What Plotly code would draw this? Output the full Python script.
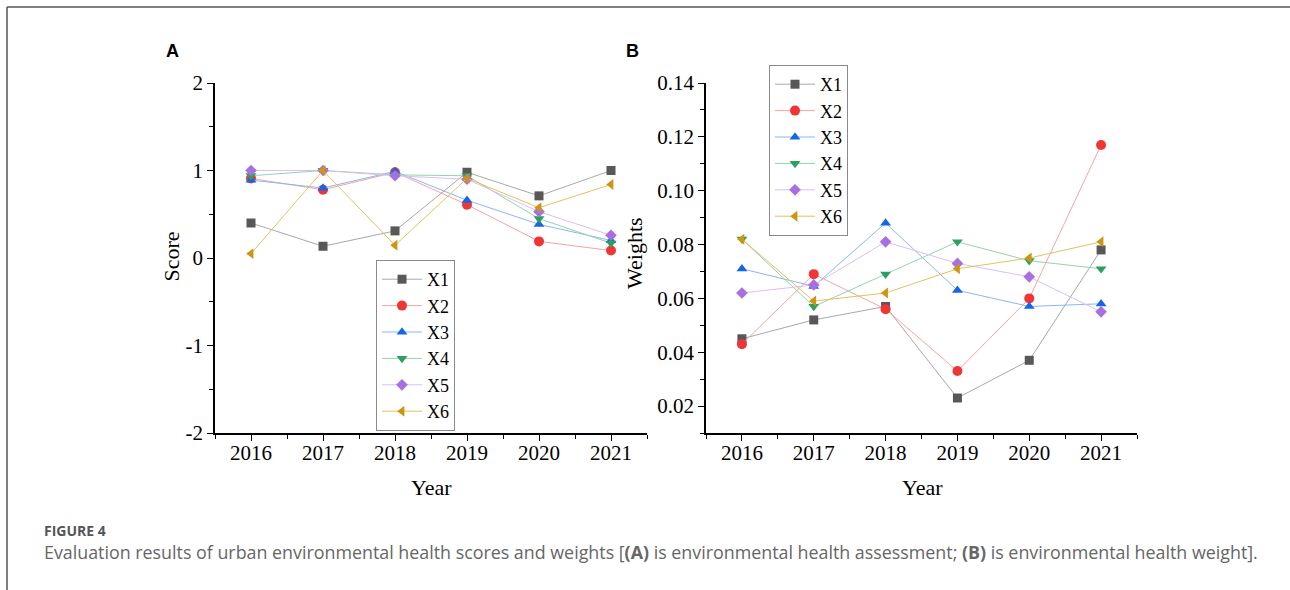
import plotly.graph_objects as go

years = [2016, 2017, 2018, 2019, 2020, 2021]
series_names = ["X1", "X2", "X3", "X4", "X5", "X6"]

score_x1 = [0.40, 0.134, 0.31, 0.98, 0.71, 1.00]
score_x2 = [0.91, 0.78, 0.98, 0.61, 0.19, 0.085]
score_x3 = [0.89, 0.80, 0.99, 0.66, 0.385, 0.20]
score_x4 = [0.94, 1.00, 0.95, 0.94, 0.45, 0.17]
score_x5 = [1.00, 1.00, 0.94, 0.90, 0.53, 0.26]
score_x6 = [0.05, 1.00, 0.145, 0.91, 0.575, 0.84]

weight_x1 = [0.045, 0.052, 0.057, 0.023, 0.037, 0.078]
weight_x2 = [0.043, 0.069, 0.056, 0.033, 0.060, 0.117]
weight_x3 = [0.071, 0.0645, 0.088, 0.063, 0.057, 0.058]
weight_x4 = [0.082, 0.057, 0.069, 0.081, 0.074, 0.071]
weight_x5 = [0.062, 0.065, 0.081, 0.073, 0.068, 0.055]
weight_x6 = [0.082, 0.059, 0.062, 0.071, 0.075, 0.081]

score_ticks = [-2, -1, 0, 1, 2]
score_ticktext = ["-2", "-1", "0", "1", "2"]
weight_ticks = [0.02, 0.04, 0.06, 0.08, 0.10, 0.12, 0.14]
weight_ticktext = ["0.02", "0.04", "0.06", "0.08", "0.10", "0.12", "0.14"]

scores = [score_x1, score_x2, score_x3, score_x4, score_x5, score_x6]
weights = [weight_x1, weight_x2, weight_x3, weight_x4, weight_x5, weight_x6]

marker_colors = ["#585858", "#f03535", "#1466e6", "#2aa160", "#a86fe0", "#cc9612"]
line_colors = ["#a8a8a8", "#f7a3a3", "#8cb6f2", "#92d4ae", "#d8bff5", "#e3c25c"]
symbols = ["square", "circle", "triangle-up", "triangle-down", "diamond", "triangle-left"]
marker_sizes = [9, 10, 9.5, 9.5, 9, 9.5]

SERIF = "Liberation Serif, Times New Roman, serif"
W, H = 1290, 590

fig = go.Figure()

for i, name in enumerate(series_names):
    fig.add_trace(go.Scatter(
        x=years, y=scores[i], name=name, mode="lines+markers",
        line=dict(color=line_colors[i], width=1),
        marker=dict(symbol=symbols[i], color=marker_colors[i], size=marker_sizes[i], line=dict(width=0)),
        xaxis="x", yaxis="y", legend="legend",
    ))
for i, name in enumerate(series_names):
    fig.add_trace(go.Scatter(
        x=years, y=weights[i], name=name, mode="lines+markers",
        line=dict(color=line_colors[i], width=1),
        marker=dict(symbol=symbols[i], color=marker_colors[i], size=marker_sizes[i], line=dict(width=0)),
        xaxis="x2", yaxis="y2", legend="legend2",
    ))

def px_x(p):
    return p / W

def px_y(p):
    return 1 - p / H

axis_common = dict(
    showline=True, linecolor="black", linewidth=1.5, showgrid=False, zeroline=False,
    ticks="outside", ticklen=6, tickwidth=1.2, tickcolor="black", automargin=False,
    tickfont=dict(family=SERIF, size=21, color="black"),
)

xdom_a = [px_x(215), px_x(647)]
xdom_b = [px_x(706), px_x(1137)]
ydom = [px_y(433), px_y(83)]

legend_style = dict(xanchor="left", yanchor="top", bgcolor="white", bordercolor="#8a8a8a", borderwidth=1,
                    font=dict(family=SERIF, size=18, color="black"), tracegroupgap=0, itemwidth=40)

fig.update_layout(
    width=W, height=H,
    margin=dict(l=0, r=0, t=0, b=0, pad=0, autoexpand=False),
    paper_bgcolor="white", plot_bgcolor="white",
    xaxis=dict(domain=xdom_a, range=[2015.5, 2021.5], tickvals=years, anchor="y",
               minor=dict(ticks="outside", ticklen=4, tickcolor="black", dtick=0.5, tick0=2015.5),
               ticklabelstandoff=-6, **axis_common),
    yaxis=dict(domain=ydom, range=[-2, 2], tickvals=score_ticks, ticktext=score_ticktext, anchor="x",
               minor=dict(ticks="outside", ticklen=4, tickcolor="black", dtick=0.5, tick0=-2),
               **axis_common),
    xaxis2=dict(domain=xdom_b, range=[2015.5, 2021.5], tickvals=years, anchor="y2",
                minor=dict(ticks="outside", ticklen=4, tickcolor="black", dtick=0.5, tick0=2015.5),
                ticklabelstandoff=-6, **axis_common),
    yaxis2=dict(domain=ydom, range=[0.01, 0.14], tickvals=weight_ticks, ticktext=weight_ticktext, anchor="x2",
                minor=dict(ticks="outside", ticklen=4, tickcolor="black", dtick=0.01, tick0=0.01),
                **axis_common),
    legend=dict(x=px_x(376), y=px_y(260), **legend_style),
    legend2=dict(x=px_x(769), y=px_y(65), **legend_style),
    showlegend=True,
)

annotations = [
    dict(text="<b>A</b>", x=px_x(172), y=px_y(51), font=dict(family="Liberation Sans, Arial", size=18, color="black")),
    dict(text="<b>B</b>", x=px_x(632.5), y=px_y(51), font=dict(family="Liberation Sans, Arial", size=18, color="black")),
    dict(text="Score", x=px_x(170.5), y=px_y(257), textangle=-90, font=dict(family=SERIF, size=22, color="black")),
    dict(text="Weights", x=px_x(634), y=px_y(253), textangle=-90, font=dict(family=SERIF, size=22, color="black")),
    dict(text="Year", x=px_x(431), y=px_y(488), font=dict(family=SERIF, size=22, color="black")),
    dict(text="Year", x=px_x(922), y=px_y(488), font=dict(family=SERIF, size=22, color="black")),
]
for a in annotations:
    a.update(xref="paper", yref="paper", showarrow=False, xanchor="center", yanchor="middle")

annotations.append(dict(text="<b>FIGURE 4</b>", x=px_x(42), y=px_y(530.5), xref="paper", yref="paper",
                        showarrow=False, xanchor="left", yanchor="middle",
                        font=dict(family="Open Sans", size=14, color="#555555")))
annotations.append(dict(
    text="Evaluation results of urban environmental health scores and weights [<b>(A)</b> is environmental health assessment; <b>(B)</b> is environmental health weight].",
    x=px_x(42), y=px_y(552), xref="paper", yref="paper", showarrow=False,
    xanchor="left", yanchor="middle", font=dict(family="Open Sans", size=17.85, color="#666666")))
fig.update_layout(annotations=annotations)

fig.add_shape(type="line", xref="paper", yref="paper", x0=px_x(7), x1=1, y0=px_y(7), y1=px_y(7),
              line=dict(color="#555555", width=1.5))
fig.add_shape(type="line", xref="paper", yref="paper", x0=px_x(7), x1=px_x(7), y0=px_y(7), y1=0,
              line=dict(color="#555555", width=1.5))

fig.write_html(
    "out.html",
    config={"displayModeBar": False},
    post_script="document.body.style.margin='0';document.body.style.overflow='hidden';document.documentElement.style.overflow='hidden';",
)
